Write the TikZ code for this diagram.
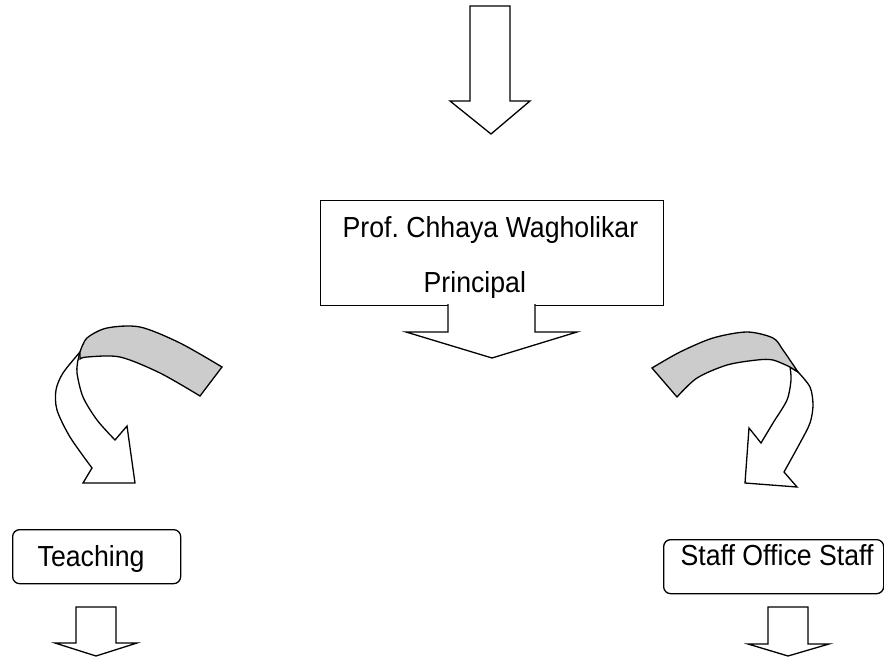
\documentclass[tikz,border=0pt]{standalone}
\usepackage{fontspec}
\setmainfont{Liberation Sans}
\newfontfamily\boxfont[FakeStretch=0.92]{Liberation Sans}
\usepackage{tikz}
\definecolor{bandgrey}{RGB}{204,204,204}

\begin{document}
\begin{tikzpicture}[x=1bp, y=-1bp, line width=1.3bp,
    orgbox/.style={draw, inner sep=0pt, anchor=north west},
    boxtext/.style={inner sep=0pt, anchor=base west, font=\boxfont\fontsize{29bp}{34bp}\selectfont},
    blockarrow/.style={draw, fill=white, line join=miter},
    band/.style={draw, fill=bandgrey}]
    \useasboundingbox (0,0) rectangle (884,661);

    % arrow coming down from the top
    \draw[blockarrow] (470,6) -- (510,6) -- (510,101) -- (530,101) -- (491,134) -- (450,101) -- (470,101) -- cycle;

    % principal
    \node[orgbox, minimum width=343bp, minimum height=105bp] (principal) at (320,200) {};
    \node[boxtext] (name) at (342,237) {Prof.\ Chhaya Wagholikar};
    \node[boxtext] (post) at (423,292) {Principal};
    \path[blockarrow] (448,304) -- (448,332) -- (406,332) -- (492,358) -- (577,332) -- (535,332) -- (535,304);

    % curved arrow to the left
    \draw[blockarrow] plot[smooth] coordinates {(80,352) (63,373) (56,390) (57,410) (70,437) (92,468)}
        -- (83,483) -- (135,483) -- (127,426)
        -- plot[smooth] coordinates {(115,440) (97,420) (83,397) (77,373) (78,360)} -- cycle;
    \draw[band] plot[smooth] coordinates {(80,352) (87,338) (107,328) (140,327) (180,343) (222,367)}
        -- plot[smooth] coordinates {(200,396) (160,373) (120,357) (87,357) (80,359)} -- cycle;

    % curved arrow to the right
    \draw[blockarrow] plot[smooth] coordinates {(798,372) (810,387) (813,405) (810,423) (800,443) (784,472)}
        -- (797,487) -- (745,483) -- (749,428)
        -- plot[smooth] coordinates {(761,443) (773,423) (787,400) (791,380) (790,367)} -- cycle;
    \draw[band] plot[smooth] coordinates {(652,368) (680,352) (713,338) (747,332) (773,338) (783,350) (798,372)}
        -- plot[smooth] coordinates {(790,367) (773,360) (757,360) (727,365) (697,378) (677,397)} -- cycle;

    % teaching
    \node[orgbox, rounded corners=7bp, minimum width=168bp, minimum height=54bp] (teaching) at (12,529) {};
    \node[boxtext] (teachtext) at (37,566) {Teaching};
    \draw[blockarrow] (76,607) -- (116,607) -- (116,643) -- (137,643) -- (96,656) -- (55,643) -- (76,643) -- cycle;

    % office staff
    \node[orgbox, rounded corners=7bp, minimum width=220bp, minimum height=54bp] (staff) at (663,539) {};
    \node[boxtext] (stafftext) at (680,565) {Staff Office Staff};
    \draw[blockarrow] (768,607) -- (808,607) -- (808,644) -- (829,644) -- (788,656) -- (748,644) -- (768,644) -- cycle;
\end{tikzpicture}
\end{document}
